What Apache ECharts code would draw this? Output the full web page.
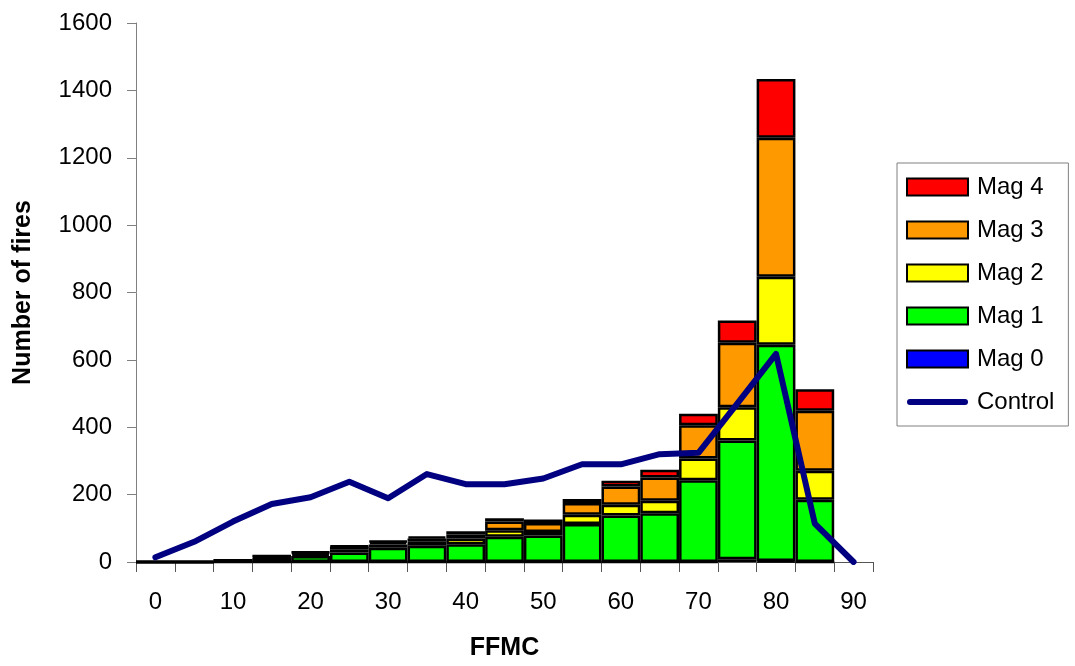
<!DOCTYPE html>
<html>
<head>
<meta charset="utf-8">
<script src="https://cdn.jsdelivr.net/npm/echarts@6/dist/echarts.min.js"></script>
<style>
html,body{margin:0;padding:0;background:#fff;}
#chart{width:1075px;height:666px;}
</style>
</head>
<body>
<div id="chart"></div>
<script>
var categories = ['0','5','10','15','20','25','30','35','40','45','50','55','60','65','70','75','80','85','90'];
var mag0 = [0,0,0,0,0,0,0,0,0,0,0,0,0,0,0,8,3,0,null];
var mag1 = [0,0,3,12,18,28,42,48,53,75,79,113,138,145,243,353,642,185,null];
var mag2 = [0,0,1,3,6,10,10,12,17,19,10,27,32,37,64,98,202,86,null];
var mag3 = [0,0,1,2,4,8,7,10,12,26,27,35,54,69,99,192,412,178,null];
var mag4 = [0,0,0,1,2,2,3,5,9,10,10,12,17,23,34,66,175,64,null];
var control = [14,60,120,172,192,238,189,261,231,231,248,290,290,320,324,470,618,114,0];
var yTicks = [0,200,400,600,800,1000,1200,1400,1600];

var FONT = 'Arial, "Liberation Sans", sans-serif';

function barSeries(name, data, color) {
  return {
    name: name,
    type: 'bar',
    stack: 'fires',
    data: data,
    barCategoryGap: '0%',
    itemStyle: { color: color, borderColor: '#000', borderWidth: 2.5 },
    emphasis: { disabled: true },
    z: 2
  };
}

var lineIcon = 'path://M0,0 L0,0 M61,17 L61,17 M3,5.5 L58,5.5 A3,3 0 0 1 58,11.5 L3,11.5 A3,3 0 0 1 3,5.5 Z';

var chart = echarts.init(document.getElementById('chart'), null, { renderer: 'canvas' });
chart.setOption({
  animation: false,
  backgroundColor: '#fff',
  textStyle: { fontFamily: FONT, color: '#000' },
  grid: { left: 136, right: 202, top: 23, bottom: 99 },
  legend: {
    orient: 'vertical',
    left: 897,
    top: 163,
    padding: [12, 14, 12, 9],
    borderColor: '#808080',
    borderWidth: 1,
    icon: 'rect',
    itemWidth: 61,
    itemHeight: 17,
    itemGap: 19,
    textStyle: { fontSize: 24, color: '#000', fontFamily: FONT, padding: [0, 0, 0, 4] },
    data: ['Mag 4', 'Mag 3', 'Mag 2', 'Mag 1', 'Mag 0',
      { name: 'Control', icon: lineIcon, itemStyle: { color: '#000080', borderWidth: 0 } }]
  },
  xAxis: {
    type: 'category',
    data: categories,
    name: 'FFMC',
    nameLocation: 'middle',
    nameGap: 74,
    nameTextStyle: { fontSize: 25, fontWeight: 'bold', color: '#000', fontFamily: FONT },
    axisLine: { lineStyle: { color: '#555', width: 1 } },
    axisTick: { show: true, interval: 0, length: 10, alignWithLabel: false, lineStyle: { color: '#555' } },
    axisLabel: { interval: 1, fontSize: 24, color: '#000', margin: 28, fontFamily: FONT },
    splitLine: { show: false }
  },
  yAxis: {
    type: 'value',
    min: yTicks[0],
    max: yTicks[yTicks.length - 1],
    interval: yTicks[1] - yTicks[0],
    name: 'Number of fires',
    nameLocation: 'middle',
    nameGap: 100,
    nameTextStyle: { fontSize: 25, fontWeight: 'bold', color: '#000', fontFamily: FONT },
    axisLine: { show: true, lineStyle: { color: '#808080', width: 1 } },
    axisTick: { show: true, length: 9, lineStyle: { color: '#808080' } },
    axisLabel: { fontSize: 24, color: '#000', margin: 24, fontFamily: FONT,
      formatter: function (v) { return String(v); } },
    splitLine: { show: false }
  },
  series: [
    barSeries('Mag 0', mag0, '#0000FF'),
    barSeries('Mag 1', mag1, '#00FF00'),
    barSeries('Mag 2', mag2, '#FFFF00'),
    barSeries('Mag 3', mag3, '#FF9900'),
    barSeries('Mag 4', mag4, '#FF0000'),
    {
      name: 'Control',
      type: 'line',
      data: control,
      symbol: 'none',
      showSymbol: false,
      lineStyle: { color: '#000080', width: 6, cap: 'round', join: 'round' },
      itemStyle: { color: '#000080' },
      emphasis: { disabled: true },
      z: 5
    }
  ]
});
</script>
</body>
</html>
